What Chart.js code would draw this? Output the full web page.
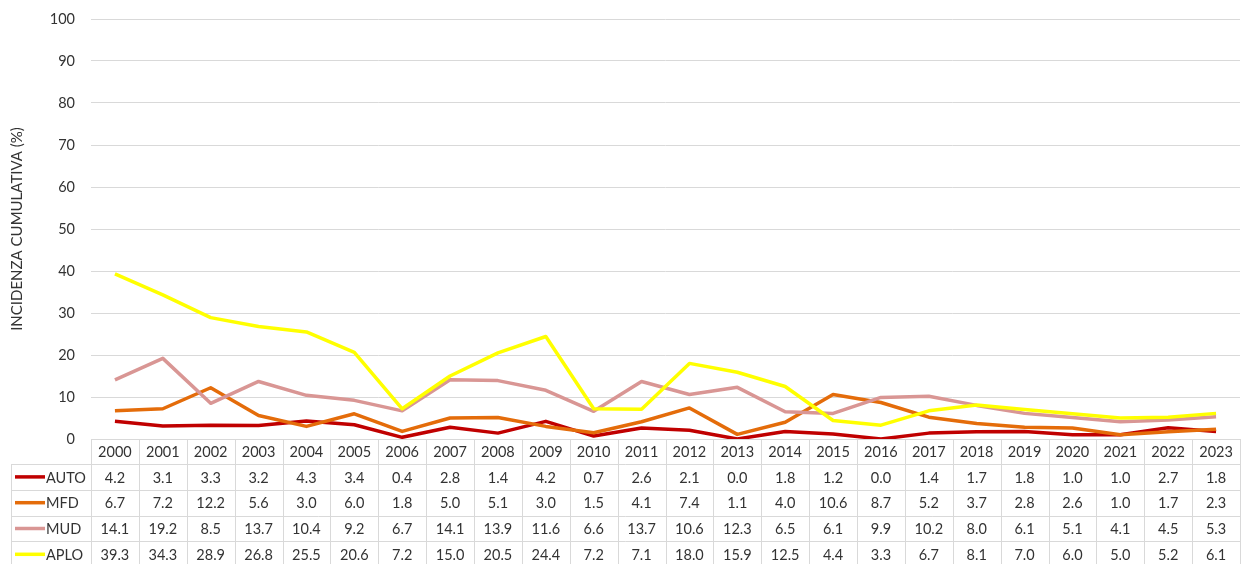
<!DOCTYPE html>
<html>
<head>
<meta charset="utf-8">
<script src="https://cdn.jsdelivr.net/npm/chart.js@4/dist/chart.umd.min.js"></script>
<style>
  body { margin: 0; background: #fff; }
  #wrap { width: 1249px; height: 564px; }
</style>
</head>
<body>
<div id="wrap"><canvas id="myChart" width="1249" height="564"></canvas></div>
<script>
const years = ["2000", "2001", "2002", "2003", "2004", "2005", "2006", "2007", "2008", "2009", "2010", "2011",
  "2012", "2013", "2014", "2015", "2016", "2017", "2018", "2019", "2020", "2021", "2022", "2023"];

const auto = [4.2, 3.1, 3.3, 3.2, 4.3, 3.4, 0.4, 2.8, 1.4, 4.2, 0.7, 2.6, 2.1, 0.0, 1.8, 1.2, 0.0, 1.4, 1.7, 1.8, 1.0, 1.0, 2.7, 1.8];
const mfd = [6.7, 7.2, 12.2, 5.6, 3.0, 6.0, 1.8, 5.0, 5.1, 3.0, 1.5, 4.1, 7.4, 1.1, 4.0, 10.6, 8.7, 5.2, 3.7, 2.8, 2.6, 1.0, 1.7, 2.3];
const mud = [14.1, 19.2, 8.5, 13.7, 10.4, 9.2, 6.7, 14.1, 13.9, 11.6, 6.6, 13.7, 10.6, 12.3, 6.5, 6.1, 9.9, 10.2, 8.0, 6.1, 5.1, 4.1, 4.5, 5.3];
const aplo = [39.3, 34.3, 28.9, 26.8, 25.5, 20.6, 7.2, 15.0, 20.5, 24.4, 7.2, 7.1, 18.0, 15.9, 12.5, 4.4, 3.3, 6.7, 8.1, 7.0, 6.0, 5.0, 5.2, 6.1];

const seriesNames = ["AUTO", "MFD", "MUD", "APLO"];
const seriesData = [auto, mfd, mud, aplo];
const seriesColors = ["#C00000", "#E46C0A", "#D99694", "#FFFF00"];

const yTicks = [0, 10, 20, 30, 40, 50, 60, 70, 80, 90, 100];

const FONT = "Lato, 'Liberation Sans', sans-serif";
const TEXT = "#333333";
const GRID = "#D9D9D9";

// data table under the plot, columns lined up with the category scale
const dataTable = {
  id: "dataTable",
  afterDraw(chart) {
    const ctx = chart.ctx;
    const area = chart.chartArea;
    const xs = chart.scales.x;
    const colW = (area.right - area.left) / years.length;
    const top = area.bottom;
    const headH = 25;
    const rowH = 25.8;
    const labelLeft = 11.5;

    ctx.save();
    ctx.strokeStyle = GRID;
    ctx.lineWidth = 1;
    ctx.fillStyle = TEXT;
    ctx.font = "14.5px " + FONT;
    ctx.textBaseline = "middle";

    // header row with the years
    ctx.beginPath();
    ctx.moveTo(area.left, top + 0.5);
    ctx.lineTo(area.right, top + 0.5);
    for (let i = 0; i <= years.length; i++) {
      const x = Math.round(area.left + i * colW) + 0.5;
      ctx.moveTo(x, top);
      ctx.lineTo(x, top + headH + rowH * seriesNames.length);
    }
    ctx.moveTo(labelLeft, top + headH);
    ctx.lineTo(labelLeft, top + headH + rowH * seriesNames.length);
    for (let r = 0; r <= seriesNames.length; r++) {
      const y = Math.round(top + headH + r * rowH) + 0.5;
      ctx.moveTo(labelLeft, y);
      ctx.lineTo(area.right, y);
    }
    ctx.stroke();

    ctx.textAlign = "center";
    years.forEach((yr, i) => {
      ctx.fillText(yr, xs.getPixelForValue(i), top + headH / 2 + 1);
    });

    // series rows: legend key, name, values
    seriesNames.forEach((name, r) => {
      const cy = top + headH + r * rowH + rowH / 2 + 1;
      ctx.strokeStyle = seriesColors[r];
      ctx.lineWidth = 3.5;
      ctx.beginPath();
      ctx.moveTo(15, cy - 1);
      ctx.lineTo(45, cy - 1);
      ctx.stroke();
      ctx.textAlign = "left";
      ctx.fillText(name, 46, cy);
      ctx.textAlign = "center";
      seriesData[r].forEach((v, i) => {
        ctx.fillText(v.toFixed(1), xs.getPixelForValue(i), cy);
      });
    });
    ctx.restore();
  }
};

const ctx = document.getElementById("myChart");

new Chart(ctx, {
  type: "line",
  data: {
    labels: years,
    datasets: seriesNames.map((name, i) => ({
      label: name,
      data: seriesData[i],
      borderColor: seriesColors[i],
      backgroundColor: seriesColors[i],
      borderWidth: 3.5,
      pointRadius: 0,
      tension: 0,
      borderJoinStyle: "round",
      order: seriesNames.length - i,
    })),
  },
  options: {
    responsive: false,
    animation: false,
    layout: { padding: { top: 19, right: 9, bottom: 125, left: 0 } },
    plugins: {
      legend: { display: false },
      tooltip: { enabled: false },
    },
    scales: {
      x: {
        display: false,
        offset: true,
      },
      y: {
        min: 0,
        max: 100,
        afterFit(scale) {
          scale.width = 91;
          scale.paddingTop = 0;
          scale.paddingBottom = 0;
        },
        afterBuildTicks(scale) { scale.ticks = yTicks.map(v => ({ value: v })); },
        border: { display: false },
        grid: { color: GRID, drawTicks: false, lineWidth: 1 },
        ticks: {
          padding: 16,
          color: TEXT,
          font: { family: FONT, size: 14.5 },
        },
        title: {
          display: true,
          text: "INCIDENZA CUMULATIVA (%)",
          color: TEXT,
          font: { family: FONT, size: 15 },
          padding: { top: 8, bottom: 0 },
        },
      },
    },
  },
  plugins: [dataTable],
});
</script>
</body>
</html>
